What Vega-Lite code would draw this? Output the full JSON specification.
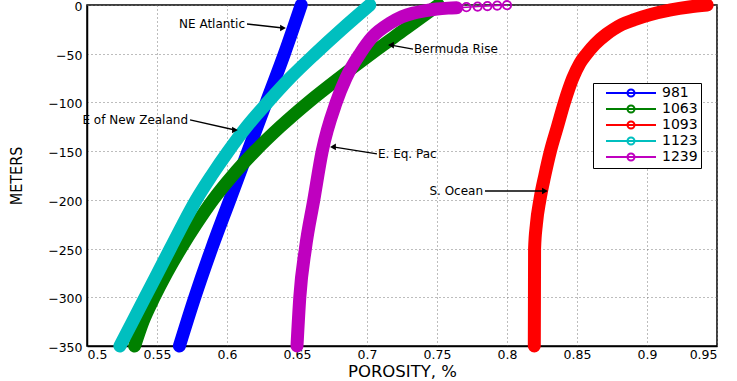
{
  "$schema": "https://vega.github.io/schema/vega-lite/v6.json",
  "width": 630,
  "height": 341,
  "autosize": {"type": "none"},
  "padding": {"left": 87, "top": 5, "right": 20, "bottom": 35},
  "background": "white",
  "config": {
    "view": {"stroke": "black", "strokeWidth": 1.5},
    "font": "DejaVu Sans",
    "axis": {
      "domainColor": "black",
      "domainWidth": 1.5,
      "ticks": false,
      "grid": true,
      "gridColor": "#7a7a7a",
      "gridDash": [1, 3],
      "gridWidth": 1,
      "labelFont": "DejaVu Sans",
      "labelFontSize": 12.5,
      "labelColor": "black",
      "titleFont": "DejaVu Sans",
      "titleFontWeight": "normal",
      "titleFontSize": 16,
      "titleColor": "black"
    }
  },
  "datasets": {
    "profiles": [
      {"core": "981", "porosity": 0.653, "depth": 0},
      {"core": "981", "porosity": 0.641, "depth": -50},
      {"core": "981", "porosity": 0.628, "depth": -100},
      {"core": "981", "porosity": 0.615, "depth": -150},
      {"core": "981", "porosity": 0.602, "depth": -200},
      {"core": "981", "porosity": 0.589, "depth": -250},
      {"core": "981", "porosity": 0.577, "depth": -300},
      {"core": "981", "porosity": 0.566, "depth": -350},
      {"core": "1063", "porosity": 0.751, "depth": 0},
      {"core": "1063", "porosity": 0.727, "depth": -25},
      {"core": "1063", "porosity": 0.703, "depth": -50},
      {"core": "1063", "porosity": 0.680, "depth": -75},
      {"core": "1063", "porosity": 0.658, "depth": -100},
      {"core": "1063", "porosity": 0.638, "depth": -125},
      {"core": "1063", "porosity": 0.620, "depth": -150},
      {"core": "1063", "porosity": 0.604, "depth": -175},
      {"core": "1063", "porosity": 0.590, "depth": -200},
      {"core": "1063", "porosity": 0.578, "depth": -225},
      {"core": "1063", "porosity": 0.567, "depth": -250},
      {"core": "1063", "porosity": 0.557, "depth": -275},
      {"core": "1063", "porosity": 0.548, "depth": -300},
      {"core": "1063", "porosity": 0.540, "depth": -325},
      {"core": "1063", "porosity": 0.534, "depth": -350},
      {"core": "1093", "porosity": 0.943, "depth": 0},
      {"core": "1093", "porosity": 0.930, "depth": -2},
      {"core": "1093", "porosity": 0.917, "depth": -5},
      {"core": "1093", "porosity": 0.902, "depth": -10},
      {"core": "1093", "porosity": 0.891, "depth": -15},
      {"core": "1093", "porosity": 0.882, "depth": -20},
      {"core": "1093", "porosity": 0.876, "depth": -25},
      {"core": "1093", "porosity": 0.871, "depth": -30},
      {"core": "1093", "porosity": 0.863, "depth": -40},
      {"core": "1093", "porosity": 0.857, "depth": -50},
      {"core": "1093", "porosity": 0.852, "depth": -60},
      {"core": "1093", "porosity": 0.847, "depth": -75},
      {"core": "1093", "porosity": 0.841, "depth": -100},
      {"core": "1093", "porosity": 0.836, "depth": -125},
      {"core": "1093", "porosity": 0.831, "depth": -150},
      {"core": "1093", "porosity": 0.827, "depth": -175},
      {"core": "1093", "porosity": 0.8235, "depth": -200},
      {"core": "1093", "porosity": 0.821, "depth": -225},
      {"core": "1093", "porosity": 0.8197, "depth": -250},
      {"core": "1093", "porosity": 0.8196, "depth": -300},
      {"core": "1093", "porosity": 0.8195, "depth": -350},
      {"core": "1123", "porosity": 0.702, "depth": 0},
      {"core": "1123", "porosity": 0.682, "depth": -25},
      {"core": "1123", "porosity": 0.663, "depth": -50},
      {"core": "1123", "porosity": 0.645, "depth": -75},
      {"core": "1123", "porosity": 0.629, "depth": -100},
      {"core": "1123", "porosity": 0.614, "depth": -125},
      {"core": "1123", "porosity": 0.601, "depth": -150},
      {"core": "1123", "porosity": 0.589, "depth": -175},
      {"core": "1123", "porosity": 0.578, "depth": -200},
      {"core": "1123", "porosity": 0.5685, "depth": -225},
      {"core": "1123", "porosity": 0.5595, "depth": -250},
      {"core": "1123", "porosity": 0.5505, "depth": -275},
      {"core": "1123", "porosity": 0.5415, "depth": -300},
      {"core": "1123", "porosity": 0.5325, "depth": -325},
      {"core": "1123", "porosity": 0.5235, "depth": -350},
      {"core": "1239", "porosity": 0.650, "depth": -350},
      {"core": "1239", "porosity": 0.652, "depth": -300},
      {"core": "1239", "porosity": 0.656, "depth": -250},
      {"core": "1239", "porosity": 0.662, "depth": -200},
      {"core": "1239", "porosity": 0.668, "depth": -150},
      {"core": "1239", "porosity": 0.678, "depth": -100},
      {"core": "1239", "porosity": 0.685, "depth": -75},
      {"core": "1239", "porosity": 0.695, "depth": -50},
      {"core": "1239", "porosity": 0.704, "depth": -32.5},
      {"core": "1239", "porosity": 0.716, "depth": -19},
      {"core": "1239", "porosity": 0.725, "depth": -12},
      {"core": "1239", "porosity": 0.733, "depth": -8.3},
      {"core": "1239", "porosity": 0.741, "depth": -6},
      {"core": "1239", "porosity": 0.750, "depth": -4.1},
      {"core": "1239", "porosity": 0.758, "depth": -3.2},
      {"core": "1239", "porosity": 0.764, "depth": -2.8},
      {"core": "1239", "porosity": 0.771, "depth": -2.2},
      {"core": "1239", "porosity": 0.779, "depth": -1.6},
      {"core": "1239", "porosity": 0.786, "depth": -1.1},
      {"core": "1239", "porosity": 0.793, "depth": -0.6},
      {"core": "1239", "porosity": 0.800, "depth": -0.2}
    ],
    "notes": [
      {"label": "NE Atlantic", "dir": "right", "porosity": 0.6143, "depth": -19.5, "tipPorosity": 0.640, "tipDepth": -23.6},
      {"label": "E of New Zealand", "dir": "right", "porosity": 0.5736, "depth": -118.0, "tipPorosity": 0.6057, "tipDepth": -128.3},
      {"label": "Bermuda Rise", "dir": "left", "porosity": 0.7329, "depth": -45.2, "tipPorosity": 0.7171, "tipDepth": -41.1},
      {"label": "E. Eq. Pac", "dir": "left", "porosity": 0.7071, "depth": -152.9, "tipPorosity": 0.6757, "tipDepth": -145.7},
      {"label": "S. Ocean", "dir": "right", "porosity": 0.7843, "depth": -190.9, "tipPorosity": 0.8271, "tipDepth": -190.9}
    ]
  },
  "encoding": {
    "x": {
      "field": "porosity",
      "type": "quantitative",
      "title": "POROSITY, %",
      "scale": {"domain": [0.5, 0.95], "nice": false, "zero": false},
      "axis": {
        "values": [0.5, 0.55, 0.6, 0.65, 0.7, 0.75, 0.8, 0.85, 0.9, 0.95],
        "format": "~g",
        "labelPadding": 2,
        "titlePadding": 3,
        "titleFontSize": 16.5
      }
    },
    "y": {
      "field": "depth",
      "type": "quantitative",
      "title": "METERS",
      "scale": {"domain": [-350, 0], "nice": false, "zero": false},
      "axis": {
        "values": [-350, -300, -250, -200, -150, -100, -50, 0],
        "format": "d",
        "labelPadding": 5,
        "labelOffset": 1.5,
        "labelFontSize": 12.5,
        "titleX": -63,
        "titleFont": "DejaVu Sans Condensed",
        "titleFontSize": 16
      }
    }
  },
  "layer": [
    {
      "data": {"name": "profiles"},
      "transform": [{"filter": "datum.core != '1239' || datum.depth <= -2.8"}],
      "mark": {"type": "line", "strokeWidth": 13, "strokeCap": "round", "strokeJoin": "round", "interpolate": "monotone"},
      "encoding": {
        "order": {"field": "depth", "type": "quantitative"},
        "color": {
          "field": "core",
          "type": "nominal",
          "scale": {
            "domain": ["981", "1063", "1093", "1123", "1239"],
            "range": ["#0000ff", "#008000", "#ff0000", "#00bfbf", "#bf00bf"]
          },
          "legend": {
            "orient": "none",
            "legendX": 506,
            "legendY": 78,
            "title": null,
            "strokeColor": "black",
            "fillColor": "white",
            "padding": 3,
            "symbolType": "M-5,0H5M0.7,0A0.7,0.7,0,1,1,-0.7,0A0.7,0.7,0,1,1,0.7,0",
            "symbolSize": 100,
            "symbolStrokeWidth": 2,
            "symbolFillColor": "transparent",
            "symbolOffset": 28,
            "labelOffset": 24,
            "labelFont": "DejaVu Sans",
            "labelFontSize": 14,
            "labelColor": "black",
            "rowPadding": 0,
            "labelExpr": "datum.label + '\u00a0\u00a0\u00a0\u00a0'"
          }
        }
      }
    },
    {
      "data": {"name": "profiles"},
      "transform": [{"filter": "datum.core == '1239' && datum.depth >= -2.8"}],
      "mark": {"type": "line", "strokeWidth": 1.5, "color": "#bf00bf"},
      "encoding": {"order": {"field": "depth", "type": "quantitative"}}
    },
    {
      "data": {"name": "profiles"},
      "transform": [{"filter": "datum.core == '1239' && datum.depth >= -2.8"}],
      "mark": {"type": "point", "filled": false, "size": 70, "strokeWidth": 1.8, "color": "#bf00bf", "opacity": 1}
    },
    {
      "data": {"name": "notes"},
      "mark": {"type": "rule", "color": "black", "strokeWidth": 1.3},
      "encoding": {
        "x2": {"field": "tipPorosity"},
        "y2": {"field": "tipDepth"}
      }
    },
    {
      "data": {"name": "notes"},
      "transform": [{"filter": "datum.dir == 'right'"}],
      "mark": {"type": "point", "shape": "triangle-right", "filled": true, "color": "black", "size": 45, "opacity": 1},
      "encoding": {
        "x": {"field": "tipPorosity", "type": "quantitative", "title": "POROSITY, %"},
        "y": {"field": "tipDepth", "type": "quantitative", "title": "METERS"}
      }
    },
    {
      "data": {"name": "notes"},
      "transform": [{"filter": "datum.dir == 'left'"}],
      "mark": {"type": "point", "shape": "triangle-left", "filled": true, "color": "black", "size": 45, "opacity": 1},
      "encoding": {
        "x": {"field": "tipPorosity", "type": "quantitative", "title": "POROSITY, %"},
        "y": {"field": "tipDepth", "type": "quantitative", "title": "METERS"}
      }
    },
    {
      "data": {"name": "notes"},
      "transform": [{"filter": "datum.dir == 'right'"}],
      "mark": {"type": "text", "align": "right", "baseline": "middle", "dx": -2, "font": "DejaVu Sans", "fontSize": 12, "color": "black"},
      "encoding": {"text": {"field": "label"}}
    },
    {
      "data": {"name": "notes"},
      "transform": [{"filter": "datum.dir == 'left'"}],
      "mark": {"type": "text", "align": "left", "baseline": "middle", "dx": 1, "font": "DejaVu Sans", "fontSize": 12, "color": "black"},
      "encoding": {"text": {"field": "label"}}
    }
  ]
}
